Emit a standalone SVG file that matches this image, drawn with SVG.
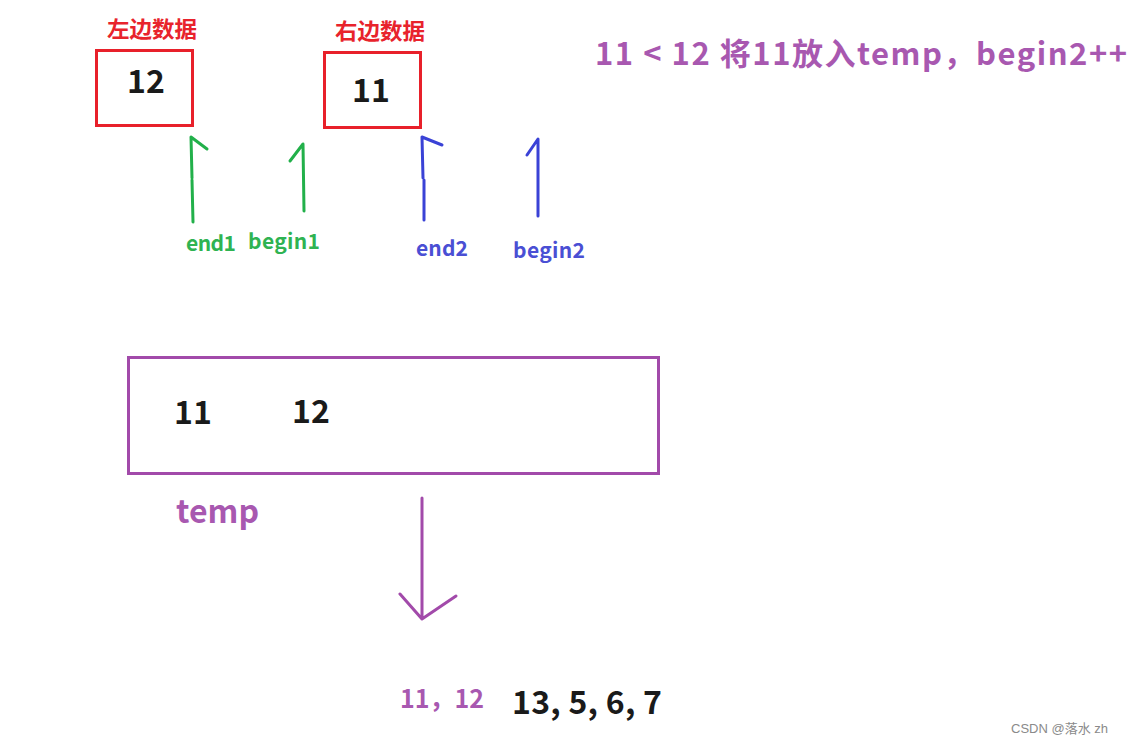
<svg xmlns="http://www.w3.org/2000/svg" width="1130" height="744" viewBox="0 0 1130 744">
<style>
text{font-family:"Noto Sans CJK SC","Open Sans",sans-serif;font-weight:bold}
.red{fill:#e8232c;font-size:22px}
.num{fill:#1a1a1a;font-size:32px}
.green{fill:#2fb352;font-size:21px}
.blue{fill:#4a4fd4;font-size:21px}
.purple{fill:#a858b0}
.box{fill:none;stroke:#e8202a;stroke-width:3}
.g{stroke:#22b04a;stroke-width:3;fill:none;stroke-linecap:round;stroke-linejoin:round}
.b{stroke:#3a42d6;stroke-width:3;fill:none;stroke-linecap:round;stroke-linejoin:round}
.p{stroke:#a24aaa;stroke-width:3;fill:none;stroke-linecap:round;stroke-linejoin:round}
</style>
<rect width="1130" height="744" fill="#fff"/>
<g id="left-data">
<text class="red" x="107" y="37" textLength="90" lengthAdjust="spacingAndGlyphs">左边数据</text>
<rect class="box" x="96.5" y="50.5" width="96" height="75"/>
<text class="num" x="146" y="93" text-anchor="middle">12</text>
</g>
<g id="right-data">
<text class="red" x="335" y="39" textLength="90" lengthAdjust="spacingAndGlyphs">右边数据</text>
<rect class="box" x="324.5" y="52.5" width="96" height="75"/>
<text class="num" x="371" y="102" text-anchor="middle">11</text>
</g>
<g id="connectors">
<path class="g" d="M193 222 L192 180 M192 178 L191 137 L207 149"/>
<path class="g" d="M304 211 L303 144 L290 161"/>
<path class="b" d="M424 220 L424 180 M423 178 L422 137 L442 145"/>
<path class="b" d="M538 216 L538 139 L527 155"/>
<path class="p" d="M422 498 L422 619 M400 594 L422 619 L456 596"/>
</g>
<g id="labels">
<text class="green" x="186" y="251" textLength="50">end1</text>
<text class="green" x="248" y="249" textLength="72">begin1</text>
<text class="blue" x="416" y="256" textLength="52">end2</text>
<text class="blue" x="513" y="258" textLength="72">begin2</text>
</g>
<g id="title">
<text class="purple" x="595" y="65" font-size="31" textLength="532">11 &lt; 12 将11放入temp，begin2++</text>
</g>
<g id="temp">
<rect x="128.5" y="357.5" width="530" height="116" fill="none" stroke="#a24aaa" stroke-width="3"/>
<text class="num" x="174" y="424">11</text>
<text class="num" x="292" y="423">12</text>
<text class="purple" x="176" y="523" font-size="32" textLength="83">temp</text>
</g>
<g id="result">
<text class="purple" x="400" y="708" font-size="25">11，12</text>
<text class="num" x="512" y="714" font-size="34" textLength="150">13, 5, 6, 7</text>
</g>
<text x="1011" y="733" style="font-family:'Liberation Sans','Noto Sans CJK SC',sans-serif;font-weight:normal" font-size="13" fill="#8a8a8a">CSDN @落水 zh</text>
</svg>
